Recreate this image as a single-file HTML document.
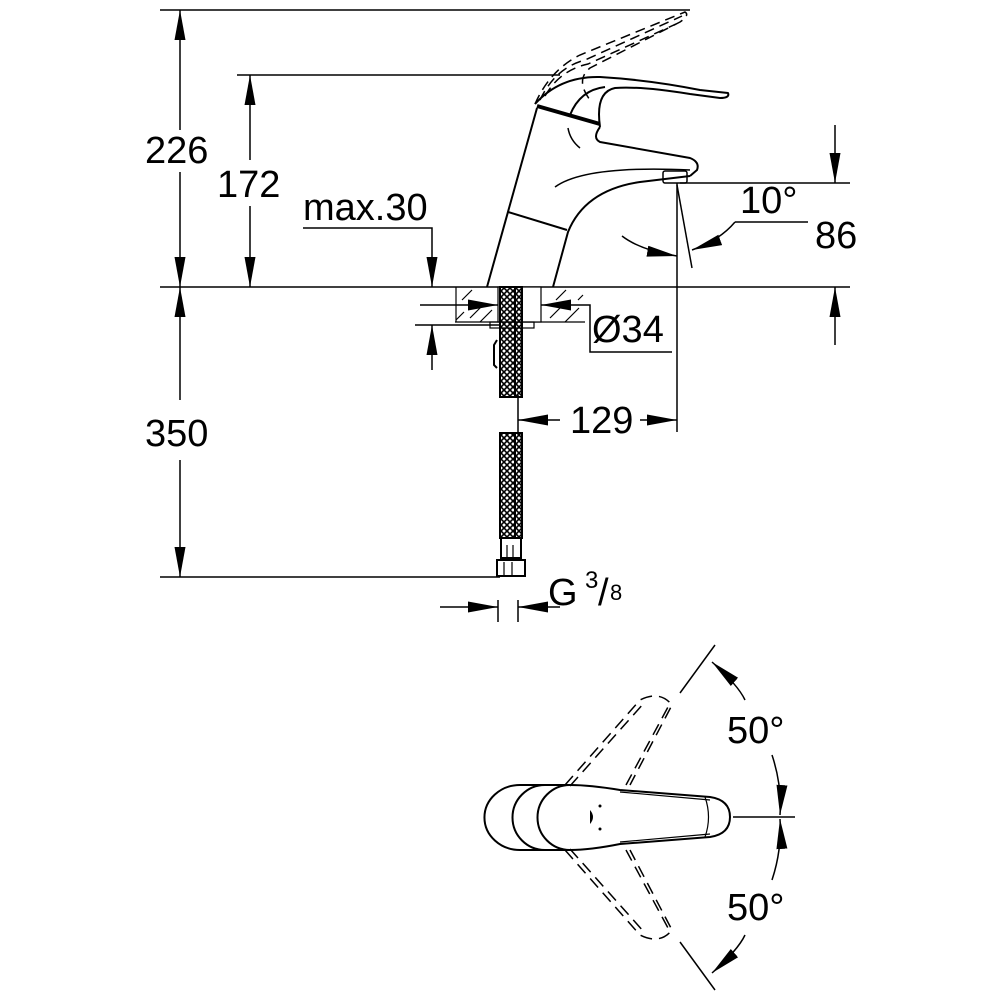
<!DOCTYPE html>
<html><head><meta charset="utf-8"><style>html,body{margin:0;padding:0;background:#fff;width:1000px;height:1000px;overflow:hidden}</style></head>
<body>
<svg width="1000" height="1000" viewBox="0 0 1000 1000" xmlns="http://www.w3.org/2000/svg">
<defs>
<marker id="a" viewBox="0 0 30 12" refX="30" refY="6" markerWidth="30" markerHeight="12" markerUnits="userSpaceOnUse" orient="auto-start-reverse"><path d="M0,0.5 L30,6 L0,11.5 Z" fill="#000"/></marker>
<pattern id="mesh" width="6" height="6" patternUnits="userSpaceOnUse"><path d="M0,0 L6,6 M6,0 L0,6" stroke="#000" stroke-width="1.6"/></pattern>
</defs>
<g stroke="#000" stroke-width="1.5" fill="none">
<line x1="160" y1="10" x2="690" y2="10"/>
<line x1="237" y1="75" x2="560" y2="75"/>
<line x1="160" y1="287" x2="850" y2="287"/>
<line x1="160" y1="577" x2="500" y2="577"/>
<line x1="680" y1="183" x2="850" y2="183"/>
<line x1="180" y1="130" x2="180" y2="10" marker-end="url(#a)"/>
<line x1="180" y1="172" x2="180" y2="287" marker-end="url(#a)"/>
<line x1="250" y1="160" x2="250" y2="75" marker-end="url(#a)"/>
<line x1="250" y1="206" x2="250" y2="287" marker-end="url(#a)"/>
<line x1="180" y1="400" x2="180" y2="287" marker-end="url(#a)"/>
<line x1="180" y1="460" x2="180" y2="577" marker-end="url(#a)"/>
<polyline points="303,228 432,228 432,287" marker-end="url(#a)"/>
<line x1="415" y1="325" x2="500" y2="325"/>
<line x1="432" y1="370" x2="432" y2="325" marker-end="url(#a)"/>
<line x1="835" y1="125" x2="835" y2="183" marker-end="url(#a)"/>
<line x1="835" y1="345" x2="835" y2="287" marker-end="url(#a)"/>
<line x1="677" y1="183" x2="677" y2="432"/>
<line x1="518" y1="395" x2="518" y2="432"/>
<line x1="560" y1="420" x2="518" y2="420" marker-end="url(#a)"/>
<line x1="640" y1="420" x2="677" y2="420" marker-end="url(#a)"/>
<line x1="677" y1="185" x2="692" y2="268"/>
<polyline points="808,222 735,222"/>
<path d="M735,222 Q720,240 692,250" marker-end="url(#a)"/>
<path d="M622,236 Q640,250 677,256" marker-end="url(#a)"/>
<line x1="420" y1="305" x2="498" y2="305" marker-end="url(#a)"/>
<line x1="570" y1="305" x2="541" y2="305" marker-end="url(#a)"/>
<polyline points="570,305 590,305 590,352 672,352"/>
<line x1="498" y1="600" x2="498" y2="622"/><line x1="518" y1="600" x2="518" y2="622"/>
<line x1="440" y1="607" x2="498" y2="607" marker-end="url(#a)"/>
<line x1="560" y1="607" x2="518" y2="607" marker-end="url(#a)"/>
</g>
<g stroke="#000" stroke-width="1.2" fill="none">
<line x1="455" y1="322" x2="585" y2="322"/>
<line x1="456" y1="287" x2="456" y2="322"/>
<path d="M462,300 l10,-10 M470,318 l14,-14 M480,322 l12,-12 M456,320 l8,-8 M556,300 l10,-10 M550,318 l14,-14 M565,322 l14,-14 M578,300 l5,-5"/>
<rect x="498" y="287" width="43" height="35" fill="#fff"/>
<rect x="490" y="322" width="44" height="6"/>
<rect x="500" y="287" width="22" height="110" fill="url(#mesh)" stroke-width="2"/>
<line x1="515" y1="287" x2="515" y2="397" stroke-width="2"/>
<path d="M497,340 l-3,5 l0,20 l3,3" stroke-width="2"/>
<rect x="500" y="433" width="22" height="105" fill="url(#mesh)" stroke-width="2"/>
<line x1="515" y1="433" x2="515" y2="538" stroke-width="2"/>
<rect x="501" y="538" width="20" height="20" stroke-width="2"/>
<line x1="507" y1="545" x2="507" y2="558"/><line x1="513" y1="545" x2="513" y2="558"/>
<rect x="497" y="560" width="28" height="16" stroke-width="2"/>
<line x1="504" y1="562" x2="504" y2="576"/><line x1="512" y1="562" x2="512" y2="576"/>
</g>
<g stroke="#000" stroke-width="2" fill="none" stroke-linejoin="round">
<path d="M487,287 L537,108"/>
<path d="M553,287 L568,232 Q585,190 640,182 L690,176"/>
<path d="M600,127 Q592,138 600,142 L690,158 Q700,162 697,170 L690,176"/>
<path d="M535,104 Q560,76 600,77 Q650,80 700,90 L728,93 Q730,98 720,98 L690,94 Q640,86 615,88 Q595,92 600,127"/>
<path d="M570,115 Q580,90 605,87"/>
<line x1="537" y1="106" x2="600" y2="124" stroke-width="4"/>
<line x1="508" y1="212" x2="567" y2="230"/>
<path d="M555,187 Q585,165 690,170" stroke-width="1.5"/>
<path d="M568,128 Q570,140 580,148" stroke-width="1.5"/>
<rect x="663" y="171" width="24" height="12" rx="2" stroke-width="1.5"/>
</g>
<g stroke="#000" stroke-width="1.5" fill="none" stroke-dasharray="10,6">
<path d="M535,104 Q550,70 580,55 L685,12 Q690,15 680,22 L590,68 Q575,80 590,100"/>
<path d="M540,100 Q555,68 585,60 L682,16"/>
<path d="M545,96 Q560,70 588,64 L676,24"/>
</g>
<g stroke="#000" stroke-width="2" fill="none">
<path d="M520,785 A35,32 0 0 0 520,850 L570,850"/>
<path d="M545,785 A32,32 0 0 0 545,850"/>
<path d="M520,785 L570,785"/>
<path d="M570,785 A32,32 0 0 0 570,850"/>
<path d="M570,785 Q590,785 620,790 L710,797 Q730,800 730,817 Q730,834 710,837 L620,844 Q590,850 570,850"/>
<path d="M620,792 L710,800 M620,842 L710,834" stroke-width="1.2"/>
<path d="M705,797 Q712,817 705,837" stroke-width="1.2"/>
</g>
<path d="M590,810 q6,7 0,14 z" fill="#000"/>
<circle cx="600" cy="806" r="1.5" fill="#000"/><circle cx="600" cy="829" r="1.5" fill="#000"/>
<g stroke="#000" stroke-width="1.5" fill="none" stroke-dasharray="12,7">
<path d="M565,785 L640,700 Q660,690 672,705 L630,785"/>
<path d="M570,786 L644,703"/>
<path d="M626,785 L668,707"/>
<path d="M565,850 L640,935 Q660,945 672,930 L630,850"/>
<path d="M570,849 L644,932"/>
<path d="M626,850 L668,928"/>
</g>
<g stroke="#000" stroke-width="1.5" fill="none">
<line x1="680" y1="693" x2="715" y2="645"/>
<line x1="680" y1="942" x2="715" y2="990"/>
<line x1="733" y1="817" x2="795" y2="817"/>
<path d="M745,700 Q738,685 712,662" marker-end="url(#a)"/>
<path d="M772,755 Q782,785 780,815" marker-end="url(#a)"/>
<path d="M772,880 Q782,850 780,819" marker-end="url(#a)"/>
<path d="M745,935 Q738,950 712,973" marker-end="url(#a)"/>
</g>
<g font-family="Liberation Sans, sans-serif" font-size="38" fill="#000">
<text x="145" y="163">226</text>
<text x="217" y="197">172</text>
<text x="303" y="220">max.30</text>
<text x="145" y="446">350</text>
<text x="740" y="213">10°</text>
<text x="815" y="248">86</text>
<text x="592" y="342">Ø34</text>
<text x="570" y="433">129</text>
<text x="548" y="605">G</text>
<text x="585" y="588" font-size="24">3</text>
<text x="598" y="605">/</text>
<text x="610" y="600" font-size="22">8</text>
<text x="727" y="743">50°</text>
<text x="727" y="920">50°</text>
</g>
</svg>
</body></html>
